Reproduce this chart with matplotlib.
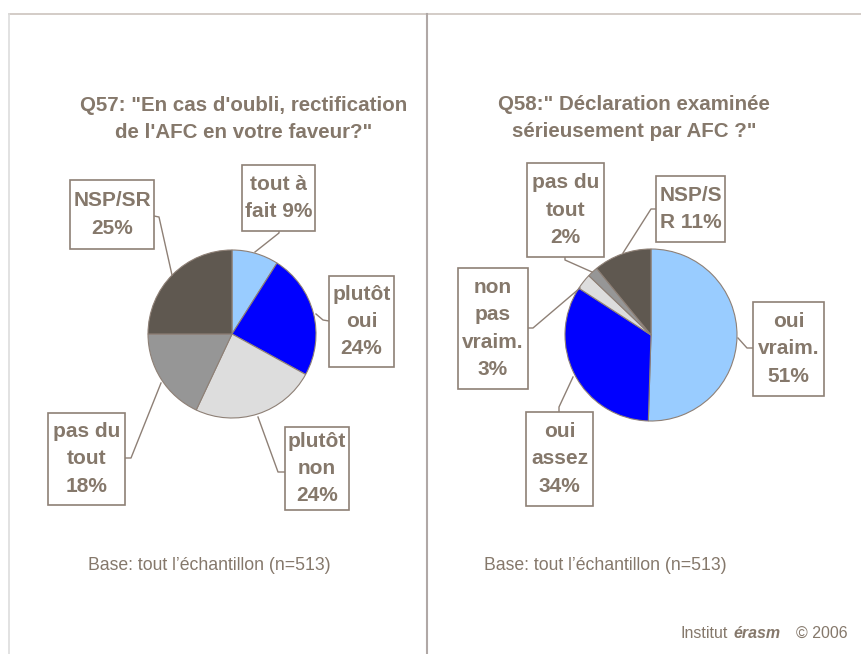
import matplotlib
matplotlib.use("Agg")
import matplotlib.pyplot as plt
from matplotlib.patches import Rectangle

plt.rcParams['font.family'] = ['Liberation Sans', 'DejaVu Sans']

# ---------------- data ----------------
q57_title = "Q57: \"En cas d'oubli, rectification\nde l'AFC en votre faveur?\""
q57_labels = ["tout à\nfait", "plutôt\noui", "plutôt\nnon", "pas du\ntout", "NSP/SR"]
q57_values = [9, 24, 24, 18, 25]
q57_seps = [" ", "\n", "\n", "\n", "\n"]

q58_title = "Q58:\" Déclaration examinée\nsérieusement par AFC ?\""
q58_labels = ["oui\nvraim.", "oui\nassez", "non\npas\nvraim.", "pas du\ntout", "NSP/S\nR"]
q58_values = [51, 34, 3, 2, 11]
q58_seps = ["\n", "\n", "\n", "\n", " "]

base_text = "Base: tout l\u2019échantillon (n=513)"

slice_colors = ["#99CCFF", "#0000FF", "#DDDDDD", "#969696", "#5F5850"]

# ---------------- layout ----------------
W, H = 861, 654
TXT = "#85786B"
EDGE = "#8E8076"

fig = plt.figure(figsize=(W / 100, H / 100), dpi=100)
ax = fig.add_axes([0, 0, 1, 1])
ax.set_xlim(0, W)
ax.set_ylim(0, H)
ax.set_aspect('equal')
ax.axis('off')


def Y(y):
    return H - y


# frame lines
ax.plot([9, W], [Y(14), Y(14)], color="#CCC4BE", lw=1.2)
ax.plot([9, 9], [Y(14), 0], color="#DDDDDD", lw=1.2)
ax.plot([427, 427], [Y(14), 0], color="#B0A8A6", lw=1.5)


def draw_pie(values, labels, seps, center, radius, boxes, leaders, title, title_xy):
    ax.pie(values, colors=slice_colors, startangle=90, counterclock=False,
           center=(center[0], Y(center[1])), radius=radius,
           wedgeprops=dict(edgecolor=EDGE, linewidth=0.8))
    for lab, v, sep, (x0, y0, x1, y1), pts in zip(labels, values, seps, boxes, leaders):
        ax.add_patch(Rectangle((x0, Y(y1)), x1 - x0, y1 - y0, facecolor='white',
                               edgecolor=EDGE, linewidth=1.2, zorder=4))
        ax.text((x0 + x1) / 2, Y((y0 + y1) / 2), f"{lab}{sep}{v}%", ha='center', va='center',
                fontsize=15, fontweight='bold', color=TXT, linespacing=1.55, zorder=5)
        ax.plot([p[0] for p in pts], [Y(p[1]) for p in pts], color=EDGE, lw=1.0, zorder=3)
    ax.text(title_xy[0], Y(title_xy[1]), title, ha='center', va='center', fontsize=14.8,
            fontweight='bold', color=TXT, linespacing=1.55)


# Q57
draw_pie(q57_values, q57_labels, q57_seps, (232, 334), 84,
         boxes=[(242, 165, 315, 231), (329, 276, 394, 367), (285, 427, 349, 510),
                (48, 413, 125, 505), (70, 180, 154, 249)],
         leaders=[[(255, 252), (279, 233), (279, 231)],
                  [(316, 314), (323, 320), (329, 321)],
                  [(258, 417), (278, 472), (285, 472)],
                  [(161, 383), (131, 458), (125, 458)],
                  [(172, 275), (159, 217), (154, 216)]],
         title=q57_title, title_xy=(244, 119))

# Q58
draw_pie(q58_values, q58_labels, q58_seps, (651, 335), 86,
         boxes=[(753, 302, 824, 396), (526, 412, 593, 506), (458, 268, 528, 389),
                (527, 163, 604, 257), (656, 176, 725, 242)],
         leaders=[[(738, 338), (747, 348), (753, 348)],
                  [(573, 377), (559, 407), (559, 412)],
                  [(580, 288), (533, 328), (528, 328)],
                  [(592, 272), (565, 260), (565, 257)],
                  [(623, 253), (651, 209), (656, 209)]],
         title=q58_title, title_xy=(634, 118))

# base notes
ax.text(88, Y(565), base_text, ha='left', va='center', fontsize=12.7, color=TXT)
ax.text(484, Y(565), base_text, ha='left', va='center', fontsize=12.7, color=TXT)

# footer
ax.text(680, Y(633), "Institut", ha='left', va='center', fontsize=11.5, color=TXT)
ax.text(734, Y(633), "érasm", ha='left', va='center', fontsize=11.5, color=TXT,
        fontweight='bold', fontstyle='italic')
ax.text(848, Y(633), "\u00a9 2006", ha='right', va='center', fontsize=11.5, color=TXT)

ax.set_xlim(0, W)
ax.set_ylim(0, H)
fig.savefig("out.png", dpi=100, facecolor='white')
